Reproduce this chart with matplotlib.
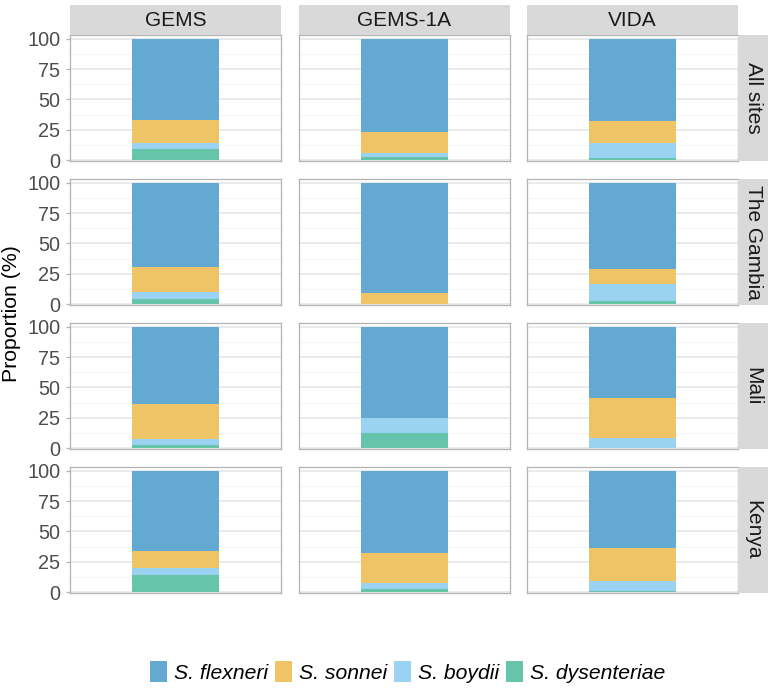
import matplotlib
matplotlib.use('Agg')
import matplotlib.pyplot as plt
from matplotlib.patches import Patch
import numpy as np

plt.rcParams['font.family'] = ['Liberation Sans', 'DejaVu Sans']

# ========== data ==========
studies = ['GEMS', 'GEMS-1A', 'VIDA']
sites = ['All sites', 'The Gambia', 'Mali', 'Kenya']
species = ['S. flexneri', 'S. sonnei', 'S. boydii', 'S. dysenteriae']
# stacking order bottom -> top: dysenteriae, boydii, sonnei, flexneri
dysenteriae = np.array([[9.0, 2.5, 2.0],
                        [4.4, 0.0, 2.5],
                        [2.7, 12.4, 0.0],
                        [14.4, 2.4, 1.4]])
boydii = np.array([[5.5, 3.8, 12.0],
                   [6.0, 0.0, 14.5],
                   [4.6, 12.2, 8.1],
                   [5.2, 4.9, 7.6]])
sonnei = np.array([[18.5, 16.7, 18.3],
                   [20.2, 9.6, 11.7],
                   [29.3, 0.0, 33.4],
                   [14.6, 24.7, 27.4]])
flexneri = 100 - dysenteriae - boydii - sonnei

colours = {'S. flexneri': '#64a9d1', 'S. sonnei': '#efc466',
           'S. boydii': '#9ad2f2', 'S. dysenteriae': '#66c4ab'}

# ========== layout (pixels) ==========
W, H = 774, 697
fig = plt.figure(figsize=(W / 100, H / 100), dpi=100)

col_x = [70, 299, 527]
row_y = [35, 179, 323, 467]
pw, ph = 211, 126


def px_axes(x, y, w, h):
    return fig.add_axes([x / W, 1 - (y + h) / H, w / W, h / H])


def strip(x, y, w, h, label, rot):
    sax = px_axes(x, y, w, h)
    sax.set_facecolor('#d9d9d9')
    sax.set_xticks([])
    sax.set_yticks([])
    for s in sax.spines.values():
        s.set_visible(False)
    sax.text(0.5, 0.5, label, ha='center', va='center', fontsize=15,
             color='#1a1a1a', rotation=rot, transform=sax.transAxes)


for r, site in enumerate(sites):
    for c, study in enumerate(studies):
        ax = px_axes(col_x[c], row_y[r], pw, ph)
        ax.set_xlim(0.4, 1.6)
        ax.set_ylim(-0.6, 103)
        bottom = 0
        for name, vals in [('S. dysenteriae', dysenteriae), ('S. boydii', boydii),
                           ('S. sonnei', sonnei), ('S. flexneri', flexneri)]:
            v = vals[r, c]
            if v > 0:
                ax.bar(1, v, width=0.5, bottom=bottom, color=colours[name],
                       linewidth=0, zorder=3)
            bottom += v
        ax.set_yticks([0, 25, 50, 75, 100])
        ax.set_yticks([12.5, 37.5, 62.5, 87.5], minor=True)
        ax.grid(which='major', axis='y', color='#e4e4e4', linewidth=1.1, zorder=0)
        ax.grid(which='minor', axis='y', color='#f2f2f2', linewidth=0.6, zorder=0)
        ax.set_xticks([])
        for s in ax.spines.values():
            s.set_color('#b3b3b3')
            s.set_linewidth(0.9)
        if c == 0:
            ax.tick_params(axis='y', which='major', labelsize=14.3, colors='#b3b3b3',
                           labelcolor='#4d4d4d', length=3, width=0.9, pad=4)
        else:
            ax.tick_params(axis='y', which='major', labelleft=False, length=0)
        ax.tick_params(axis='y', which='minor', length=0)

        if r == 0:
            strip(col_x[c], 5, pw, 30, study, 0)
        if c == 2:
            strip(738, row_y[r], 30, ph, site, -90)

fig.text(12 / W, 1 - 314 / H, 'Proportion (%)', rotation=90, ha='center',
         va='center', fontsize=15.3)

handles = [Patch(facecolor=colours[s], edgecolor='none') for s in species]
fig.legend(handles, species, loc='center', bbox_to_anchor=(408 / W, 1 - 672 / H),
           ncol=4, frameon=False, prop={'style': 'italic', 'size': 15.2},
           handlelength=0.8, handleheight=1.1, handletextpad=0.33,
           columnspacing=0.33, borderpad=0, borderaxespad=0)

fig.savefig('out.png', dpi=100)
